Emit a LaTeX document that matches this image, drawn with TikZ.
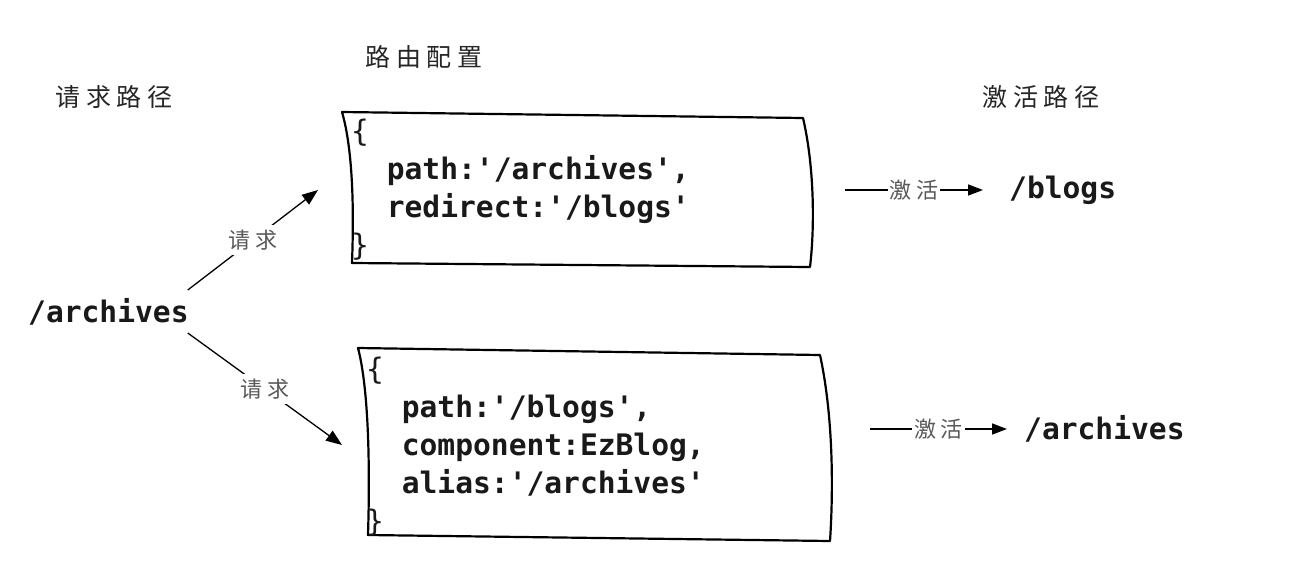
\documentclass[tikz,border=0pt]{standalone}
\usepackage{fontspec}
\setmonofont{DejaVu Sans Mono}
\newfontfamily\cjk[LetterSpace=22]{Noto Sans CJK SC}
\usetikzlibrary{arrows.meta}
\begin{document}
\begin{tikzpicture}[x=1pt,y=-1pt,
  code/.style={font=\ttfamily\bfseries\fontsize{29.6}{38}\selectfont, align=left, inner sep=0pt, text=black!90},
  title/.style={font=\cjk\fontsize{25}{25}\selectfont, text=black!85, inner sep=0pt},
  lbl/.style={font=\cjk\fontsize{22}{22}\selectfont, text=black!65, fill=white, inner xsep=2pt, inner ysep=5pt},
  frame/.style={line width=2.2pt, line join=round},
  arr/.style={line width=1.3pt, -{Triangle[length=16pt,width=12pt]}},
  arrr/.style={line width=1.5pt, -{Triangle[length=15pt,width=11pt]}},
]
\useasboundingbox[fill=white] (0,0) rectangle (1316,576);

% titles
\node[title] (t1) at (114,97) {请求路径};
\node[title] (t2) at (424,57) {路由配置};
\node[title] (t3) at (1041,97) {激活路径};

% source
\node[code, anchor=west] (src) at (28,312) {/archives};

% box 1
\draw[frame] (342,112) -- (803,118) .. controls (814,165) and (815,225) .. (810,267)
  -- (352,263) .. controls (354,210) and (353,150) .. (342,112) -- cycle;
\node[code, anchor=west] (box1) at (351,190) {{\mdseries\{}\\\phantom{xx}path:'/archives',\\\phantom{xx}redirect:'/blogs'\\{\mdseries\}}};

% box 2
\draw[frame] (358,348) -- (820,355) .. controls (832,410) and (834,480) .. (830,541)
  -- (368,535) .. controls (370,470) and (369,390) .. (358,348) -- cycle;
\node[code, anchor=west] (box2) at (366,447) {{\mdseries\{}\\\phantom{xx}path:'/blogs',\\\phantom{xx}component:EzBlog,\\\phantom{xx}alias:'/archives'\\{\mdseries\}}};

% destinations
\node[code, anchor=west] (dst1) at (1009,190) {/blogs};
\node[code, anchor=west] (dst2) at (1024,429) {/archives};

% request connectors
\draw[arr] ([xshift=-1pt,yshift=22pt]src.east) -- ([xshift=-33pt]box1.west)
  node[lbl, midway] {请求};
\draw[arr] ([xshift=-1pt,yshift=-21pt]src.east) -- ([xshift=-24pt,yshift=2pt]box2.west)
  node[lbl, midway] {请求};

% activation connectors
\coordinate (r1) at (845,190);
\coordinate (r2) at (870,429);
\draw[arrr] (r1) -- ([xshift=-26pt]dst1.west) node[lbl, midway] {激活};
\draw[arrr] (r2) -- ([xshift=-17pt]dst2.west) node[lbl, midway] {激活};
\end{tikzpicture}
\end{document}
